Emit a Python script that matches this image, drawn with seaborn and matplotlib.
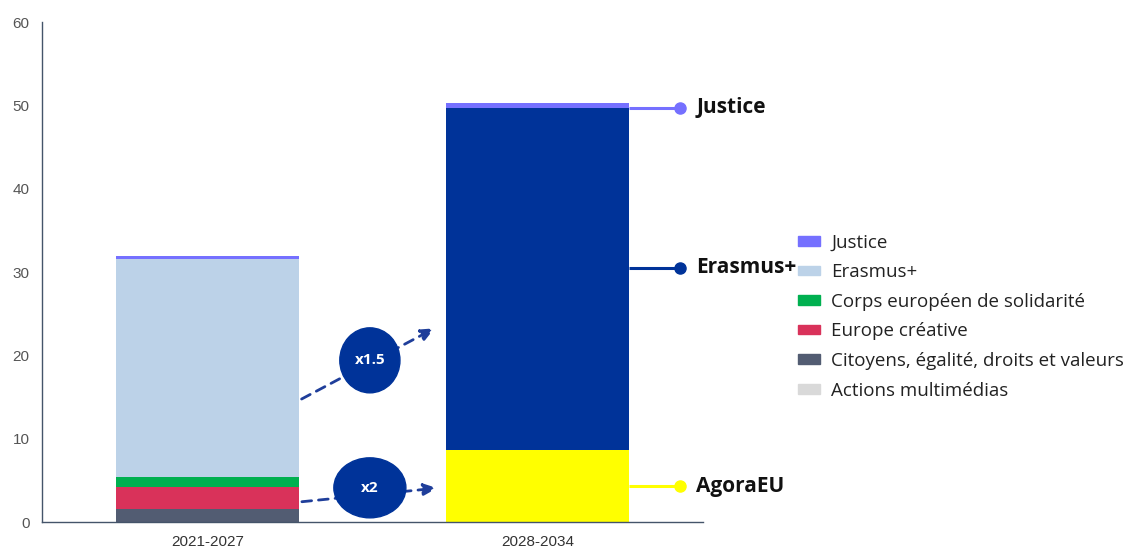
import matplotlib
matplotlib.use("Agg")
import matplotlib.pyplot as plt
from matplotlib.patches import Patch, Ellipse
import pandas as pd
import seaborn as sns

# données (milliards d'euros)
periods = ["2021-2027", "2028-2034"]

series_2021 = ["Actions multimédias", "Citoyens, égalité, droits et valeurs",
               "Europe créative", "Corps européen de solidarité", "Erasmus+", "Justice"]
values_2021 = [0.05, 1.55, 2.6, 1.2, 26.2, 0.3]
colors_2021 = ["#D9D9D9", "#525C72", "#D9325A", "#00B050", "#BCD2E8", "#7570FF"]

series_2028 = ["AgoraEU", "Erasmus+", "Justice"]
values_2028 = [8.6, 41.1, 0.6]
colors_2028 = ["#FFFF00", "#003399", "#7570FF"]

multipliers = ["x2", "x1.5"]

sns.set_style("white")
plt.rcParams["font.family"] = ["Open Sans", "DejaVu Sans"]

fig = plt.figure(figsize=(11.42, 5.5), dpi=100)
ax = fig.add_axes([0.0368, 0.0509, 0.5788, 0.9091])

bar_w = 0.554

def draw_stack(period, names, vals, cols):
    rows = []
    cum = 0
    for n, v, c in zip(names, vals, cols):
        cum += v
        rows.append((n, cum, v, c))
    # les plus hautes d'abord, puis on recouvre
    for n, top, v, c in reversed(rows):
        df = pd.DataFrame({"period": [period], "value": [top]})
        sns.barplot(data=df, x="period", y="value", order=periods, color=c,
                    width=bar_w, saturation=1, ax=ax, linewidth=0)
    return rows

rows1 = draw_stack(periods[0], series_2021, values_2021, colors_2021)
rows2 = draw_stack(periods[1], series_2028, values_2028, colors_2028)

ax.set_xlim(-0.5, 1.5)
ax.set_ylim(0, 60)
ax.set_xlabel("")
ax.set_ylabel("")
ax.set_yticks(range(0, 61, 10))
ax.set_xticks([0, 1])
ax.set_xticklabels(periods, family="Liberation Sans", fontsize=11, color="#333333")
for lab in ax.get_yticklabels():
    lab.set_family("Liberation Sans")
    lab.set_fontsize(11)
    lab.set_color("#555555")
ax.set_xticks([0.5, 1.5], minor=True)
ax.tick_params(axis="x", which="major", length=0, pad=9)
ax.tick_params(axis="x", which="minor", direction="in", length=3, color="#44546A")
ax.tick_params(axis="y", direction="in", length=3, color="#44546A", pad=9)
sns.despine(ax=ax)
for s in ["left", "bottom"]:
    ax.spines[s].set_color("#44546A")
    ax.spines[s].set_linewidth(1.0)

# étiquettes à droite de la 2e barre
x_edge = 1 + bar_w / 2
x_dot = 1.43
for n, top, v, c in rows2:
    y = top - v / 2
    if n == "Erasmus+":
        y = 30.5
    if n == "Justice":
        y = top - v
    ax.plot([x_edge, x_dot], [y, y], color=c, lw=2.2, clip_on=False, solid_capstyle="butt")
    ax.plot(x_dot, y, "o", color=c, ms=8, clip_on=False)
    ax.text(x_dot + 0.05, y, n, fontsize=15, fontweight="bold", color="#111111",
            va="center", ha="left", clip_on=False)

# flèches de progression
arrow_kw = dict(arrowstyle="-|>,head_length=0.8,head_width=0.35", color="#1F3E9A",
                lw=2, linestyle=(0, (3.5, 2.5)))
ax.annotate("", xy=(0.704, 4.1), xytext=(0.278, 2.4), arrowprops=arrow_kw)
ax.annotate("", xy=(0.695, 23.4), xytext=(0.278, 14.6), arrowprops=arrow_kw)

for txt, (cx, cy, w, h) in zip(multipliers, [(0.492, 4.1, 0.218, 7.2), (0.492, 19.4, 0.182, 7.8)]):
    ax.add_patch(Ellipse((cx, cy), w, h, color="#003399", zorder=5))
    ax.text(cx, cy, txt, color="white", fontsize=11, fontweight="bold",
            ha="center", va="center", zorder=6)

# légende
handles = [Patch(color=c, label=n) for n, c in zip(series_2021, colors_2021)][::-1]
leg = ax.legend(handles=handles, loc="center left", bbox_to_anchor=(1.132, 0.411),
                frameon=False, fontsize=13.5, handlelength=1.17, handleheight=0.42,
                labelspacing=0.62, handletextpad=0.62, borderaxespad=0)
for t in leg.get_texts():
    t.set_color("#222222")

fig.savefig("out.png", dpi=100)
